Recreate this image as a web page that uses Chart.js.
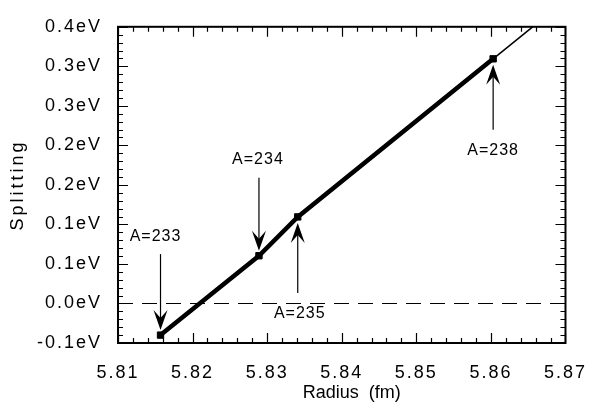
<!DOCTYPE html>
<html>
<head>
<meta charset="utf-8">
<script src="https://cdn.jsdelivr.net/npm/chart.js@4.4.1/dist/chart.umd.min.js"></script>
<style>
html, body { margin: 0; padding: 0; background: #fff; }
#wrap { width: 602px; height: 406px; }
</style>
</head>
<body>
<div id="wrap"><canvas id="graph_split"></canvas></div>
<script>
// values
var massNumbers = ["A=233", "A=234", "A=235", "A=238"];
var radius = [5.8157, 5.8289, 5.8341, 5.8603];
var splitting = [-0.040, 0.0604, 0.1095, 0.3095];

// thin continuation after A=238, up to where it leaves the frame
var radiusExt = [5.8603, 5.8656];
var splittingExt = [0.3095, 0.35];

// dashed zero line
var zeroRadius = [5.81, 5.87];
var zeroSplitting = [0, 0];

var xTickLabels = ["5.81", "5.82", "5.83", "5.84", "5.85", "5.86", "5.87"];
var yTickLabels = ["-0.1eV", "0.0eV", "0.1eV", "0.1eV", "0.2eV", "0.2eV", "0.3eV", "0.3eV", "0.4eV"];

var xTitle = "Radius  (fm)";
var yTitle = "Splitting";

// arrows: which point, which way, shaft length in px
var flechas = [
    {idx: 0, dir: "down", len: 76, dx: -5},
    {idx: 1, dir: "down", len: 73, dx: -1},
    {idx: 2, dir: "up", len: 70, dx: 2},
    {idx: 3, dir: "up", len: 65, dx: 0}
];

var FONT = "'Liberation Sans', Arial, Helvetica, sans-serif";

function pares(xs, ys) {
    return xs.map(function (x, i) { return {x: x, y: ys[i]}; });
}

function punta(ctx, x, y, dir) {
    // filled barbed arrow head, tip at (x, y)
    var s = dir === "down" ? -1 : 1;
    ctx.beginPath();
    ctx.moveTo(x, y);
    ctx.lineTo(x - 7, y + s * 20);
    ctx.lineTo(x, y + s * 12);
    ctx.lineTo(x + 7, y + s * 20);
    ctx.closePath();
    ctx.fill();
}

function marcas(ctx, scale, area, horizontal) {
    var t = scale.ticks;
    for (var i = 0; i < t.length; i++) {
        var vals = [{v: t[i].value, l: 10}];
        if (i < t.length - 1) {
            var paso = (t[i + 1].value - t[i].value) / 5;
            for (var k = 1; k < 5; k++) vals.push({v: t[i].value + k * paso, l: 5});
        }
        vals.forEach(function (m) {
            var p = Math.round(scale.getPixelForValue(m.v)) + 0.5;
            ctx.beginPath();
            if (horizontal) {
                ctx.moveTo(p, area.bottom); ctx.lineTo(p, area.bottom - m.l);
                ctx.moveTo(p, area.top); ctx.lineTo(p, area.top + m.l);
            } else {
                ctx.moveTo(area.left, p); ctx.lineTo(area.left + m.l, p);
                ctx.moveTo(area.right, p); ctx.lineTo(area.right - m.l, p);
            }
            ctx.stroke();
        });
    }
}

var marco = {
    id: "marco",
    beforeDraw: function (chart) {
        chart.ctx.letterSpacing = "2px";
    },
    afterDraw: function (chart) {
        var ctx = chart.ctx, a = chart.chartArea;
        var xs = chart.scales.x, ys = chart.scales.y;
        ctx.save();
        ctx.strokeStyle = "#000";
        ctx.fillStyle = "#000";
        ctx.lineWidth = 2;
        ctx.strokeRect(a.left, a.top, a.right - a.left, a.bottom - a.top);
        ctx.lineWidth = 1.2;
        marcas(ctx, xs, a, true);
        marcas(ctx, ys, a, false);

        // arrows and their labels
        ctx.font = "16px " + FONT;
        ctx.letterSpacing = "1px";
        ctx.textAlign = "center";
        ctx.textBaseline = "middle";
        ctx.lineWidth = 1.2;
        flechas.forEach(function (f) {
            var px = xs.getPixelForValue(radius[f.idx]);
            var py = ys.getPixelForValue(splitting[f.idx]);
            var tipY, tailY, textY;
            if (f.dir === "down") {
                tipY = py - 5; tailY = tipY - f.len; textY = tailY - 18;
            } else {
                tipY = py + 6; tailY = tipY + f.len; textY = tailY + 21;
            }
            ctx.beginPath();
            ctx.moveTo(px, tailY);
            ctx.lineTo(px, tipY + (f.dir === "down" ? -12 : 12));
            ctx.stroke();
            punta(ctx, px, tipY, f.dir);
            ctx.fillText(massNumbers[f.idx], px + f.dx, textY);
        });

        // axis titles
        ctx.font = "18px " + FONT;
        ctx.letterSpacing = "0px";
        ctx.fillText(xTitle, (a.left + a.right) / 2 + 10, 393);
        ctx.translate(18, (a.top + a.bottom) / 2);
        ctx.rotate(-Math.PI / 2);
        ctx.font = "18px " + FONT;
        ctx.letterSpacing = "3px";
        ctx.fillText(yTitle, 0, 0);
        ctx.restore();
    }
};

var tickFont = {family: FONT, size: 18};

var grafico = new Chart(document.getElementById("graph_split").getContext("2d"), {
    type: "line",
    data: {
        datasets: [
            {
                label: "splitting",
                data: pares(radius, splitting),
                borderColor: "#000",
                borderWidth: 4.5,
                pointStyle: "rect",
                pointRadius: 4.5,
                pointBackgroundColor: "#000",
                pointBorderColor: "#000",
                pointBorderWidth: 1,
                tension: 0,
                order: 1
            },
            {
                label: "ext",
                data: pares(radiusExt, splittingExt),
                borderColor: "#000",
                borderWidth: 1.5,
                pointRadius: 0,
                order: 2
            },
            {
                label: "zero",
                data: pares(zeroRadius, zeroSplitting),
                borderColor: "#000",
                borderWidth: 1.2,
                borderDash: [15, 9],
                pointRadius: 0,
                order: 3
            }
        ]
    },
    options: {
        responsive: true,
        maintainAspectRatio: false,
        animation: false,
        layout: {padding: {top: 17, right: 24, left: 0, bottom: 0}},
        plugins: {legend: {display: false}, tooltip: {enabled: false}},
        scales: {
            x: {
                type: "linear",
                min: 5.81,
                max: 5.87,
                grid: {display: false, drawTicks: false},
                border: {display: false},
                ticks: {
                    stepSize: 0.01,
                    autoSkip: false,
                    maxRotation: 0,
                    color: "#000",
                    font: tickFont,
                    padding: 19,
                    callback: function (v, i) { return xTickLabels[i]; }
                },
                afterFit: function (s) { s.height = 63; }
            },
            y: {
                type: "linear",
                min: -0.05,
                max: 0.35,
                grid: {display: false, drawTicks: false},
                border: {display: false},
                ticks: {
                    stepSize: 0.05,
                    autoSkip: false,
                    color: "#000",
                    font: tickFont,
                    padding: 16,
                    callback: function (v, i) { return yTickLabels[i]; }
                },
                afterFit: function (s) { s.width = 118; }
            }
        }
    },
    plugins: [marco]
});
</script>
</body>
</html>
